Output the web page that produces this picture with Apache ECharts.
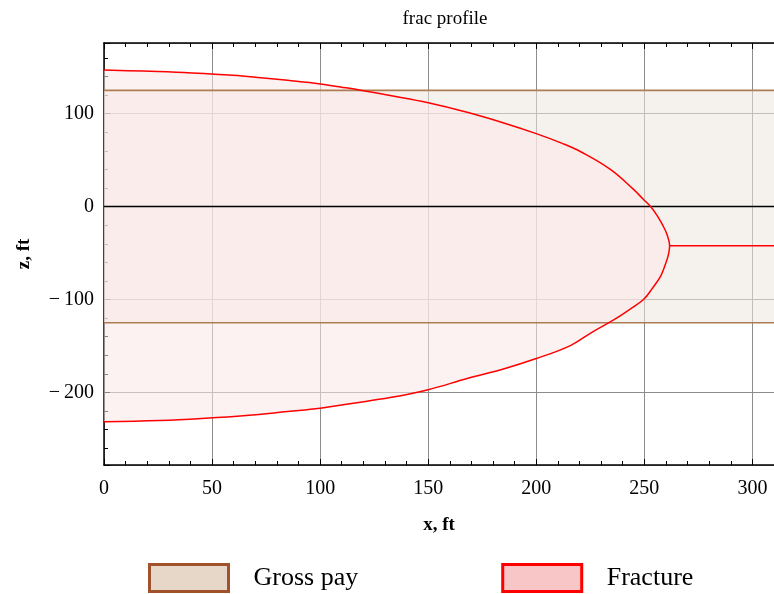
<!DOCTYPE html>
<html>
<head>
<meta charset="utf-8">
<title>frac profile</title>
<script src="https://cdn.jsdelivr.net/npm/echarts@6/dist/echarts.min.js"></script>
<style>
  html, body { margin: 0; padding: 0; background: #fff; }
  #chart { width: 774px; height: 594px; }
</style>
</head>
<body>
<div id="chart"></div>
<script>
// Fracture outline, upper branch: distance along fracture (ft) and depth z (ft)
const fracTopX = [0, 11, 25, 40.5, 59.7, 72.6, 85, 100, 112, 120, 132.4, 150, 168, 185, 200, 212, 221, 234.3, 245, 249.5, 252.9, 256, 258.5, 260.5, 261.7];
const fracTopZ = [147, 146.2, 145.3, 143.8, 141.2, 138.6, 135.8, 132, 127.8, 124.7, 119.5, 111.7, 101.5, 90, 78.5, 68, 58.5, 40, 18.5, 8, 0, -10, -20, -30, -42.2];
// Fracture outline, lower branch (from the tip back to the wellbore)
const fracBotX = [261.7, 261.3, 260.5, 259.3, 257.5, 254, 249.6, 243, 236, 225, 215.8, 200, 184.8, 168, 150, 132.4, 113.8, 100, 85, 65.8, 47, 25.9, 0];
const fracBotZ = [-42.2, -50, -57, -65, -75, -87, -100, -111, -121.7, -136.3, -149.5, -163.5, -174.7, -185, -197, -205.5, -212, -217, -220.5, -224.8, -227.8, -230.2, -231.4];
// Tail line to the right of the tip
const tailX = [261.7, 310];
const tailZ = [-42.2, -42.2];
// Gross pay interval (ft)
const grossPayTop = 125;
const grossPayBottom = -125;
// Axis ranges
const xRange = [0, 310];
const zRange = [-278, 176];
const legendNames = ['Gross pay', 'Fracture'];

const FONT = 'Liberation Serif';

const zip = (xs, ys) => xs.map((x, i) => [x, ys[i]]);
const fracOutline = zip(fracTopX, fracTopZ).concat(zip(fracBotX, fracBotZ).slice(1));

const fmtTick = v => (v < 0 ? '\u2212\u2009' + Math.abs(v) : String(v));

const chart = echarts.init(document.getElementById('chart'), null, { renderer: 'canvas' });

const axisCommon = {
  type: 'value',
  axisLine: { show: true, onZero: false, lineStyle: { color: '#000', width: 1.5 } },
  axisTick: { show: true, inside: true, length: 6, lineStyle: { color: '#000', width: 1 } },
  minorTick: { show: true, splitNumber: 5, length: 4, lineStyle: { color: '#000', width: 1 } },
};

chart.setOption({
  animation: false,
  backgroundColor: '#fff',
  title: {
    text: 'frac profile',
    left: 440,
    top: 5,
    textAlign: 'center',
    textStyle: { fontFamily: FONT, fontSize: 19, fontWeight: 'normal', color: '#000' }
  },
  grid: { left: 104, top: 43, width: 670, height: 422, containLabel: false },
  legend: {
    left: 148,
    top: 563,
    padding: 0,
    itemWidth: 79,
    itemHeight: 27,
    itemGap: 143,
    selectedMode: false,
    textStyle: { fontFamily: FONT, fontSize: 26, color: '#000', padding: [0, 0, 0, 20] },
    data: [
      { name: legendNames[0], icon: 'rect', itemStyle: { color: '#e6d7c9', borderColor: '#a0522d', borderWidth: 3 } },
      { name: legendNames[1], icon: 'rect', itemStyle: { color: '#f8c6c6', borderColor: '#ff0000', borderWidth: 3 } }
    ]
  },
  xAxis: [
    Object.assign({}, axisCommon, {
      position: 'bottom',
      min: xRange[0], max: xRange[1], splitNumber: 6,
      name: 'x, ft', nameLocation: 'middle', nameGap: 51,
      nameTextStyle: { fontFamily: FONT, fontSize: 19, fontWeight: 'bold', color: '#000' },
      axisLabel: { margin: 14, fontFamily: FONT, fontSize: 20, color: '#000', formatter: fmtTick, showMaxLabel: false },
      splitLine: { show: true, lineStyle: { color: '#8c8c8c', width: 1 } }
    }),
    Object.assign({}, axisCommon, {
      position: 'top',
      min: xRange[0], max: xRange[1], splitNumber: 6,
      axisLabel: { show: false },
      splitLine: { show: false }
    })
  ],
  yAxis: [
    Object.assign({}, axisCommon, {
      position: 'left',
      min: zRange[0], max: zRange[1], splitNumber: 5,
      name: 'z, ft', nameLocation: 'middle', nameGap: 70,
      nameTextStyle: { fontFamily: FONT, fontSize: 19, fontWeight: 'bold', color: '#000' },
      axisLabel: { margin: 10, fontFamily: FONT, fontSize: 20, color: '#000', formatter: fmtTick, showMinLabel: false, showMaxLabel: false },
      splitLine: { show: true, lineStyle: { color: '#8c8c8c', width: 1 } }
    })
  ],
  series: [
    {
      // gross pay band fill
      name: legendNames[0],
      type: 'custom',
      z: 1,
      silent: true,
      data: [[xRange[0], grossPayBottom, xRange[1], grossPayTop]],
      encode: { x: [0, 2], y: [1, 3] },
      renderItem: (params, api) => {
        const p0 = api.coord([api.value(0), api.value(3)]);
        const p1 = api.coord([api.value(2), api.value(1)]);
        return {
          type: 'rect',
          shape: { x: p0[0], y: p0[1], width: p1[0] - p0[0], height: p1[1] - p0[1] },
          style: { fill: 'rgba(237,232,225,0.56)' }
        };
      }
    },
    {
      // fracture body fill
      name: legendNames[1],
      type: 'custom',
      z: 2,
      silent: true,
      data: fracOutline,
      encode: { x: 0, y: 1 },
      renderItem: (params, api) => {
        if (params.dataIndex !== 0) return null;
        const pts = fracOutline.map(p => api.coord(p));
        return { type: 'polygon', shape: { points: pts }, style: { fill: 'rgba(251,232,232,0.56)' } };
      }
    },
    {
      // z = 0 reference line
      name: 'zero',
      type: 'line',
      z: 3,
      symbol: 'none',
      silent: true,
      data: [[xRange[0], 0], [xRange[1], 0]],
      lineStyle: { color: '#000', width: 1.5 }
    },
    {
      name: legendNames[0],
      type: 'line',
      z: 4,
      symbol: 'none',
      silent: true,
      data: [[xRange[0], grossPayTop], [xRange[1], grossPayTop]],
      lineStyle: { color: '#ad7d52', width: 1.6 }
    },
    {
      name: legendNames[0],
      type: 'line',
      z: 4,
      symbol: 'none',
      silent: true,
      data: [[xRange[0], grossPayBottom], [xRange[1], grossPayBottom]],
      lineStyle: { color: '#ad7d52', width: 1.6 }
    },
    {
      name: legendNames[1],
      type: 'line',
      z: 5,
      symbol: 'none',
      silent: true,
      smooth: 0.4,
      data: fracOutline,
      lineStyle: { color: '#ff0000', width: 1.5 }
    },
    {
      name: legendNames[1],
      type: 'line',
      z: 5,
      symbol: 'none',
      silent: true,
      data: zip(tailX, tailZ),
      lineStyle: { color: '#ff0000', width: 1.5 }
    }
  ]
});
</script>
</body>
</html>
